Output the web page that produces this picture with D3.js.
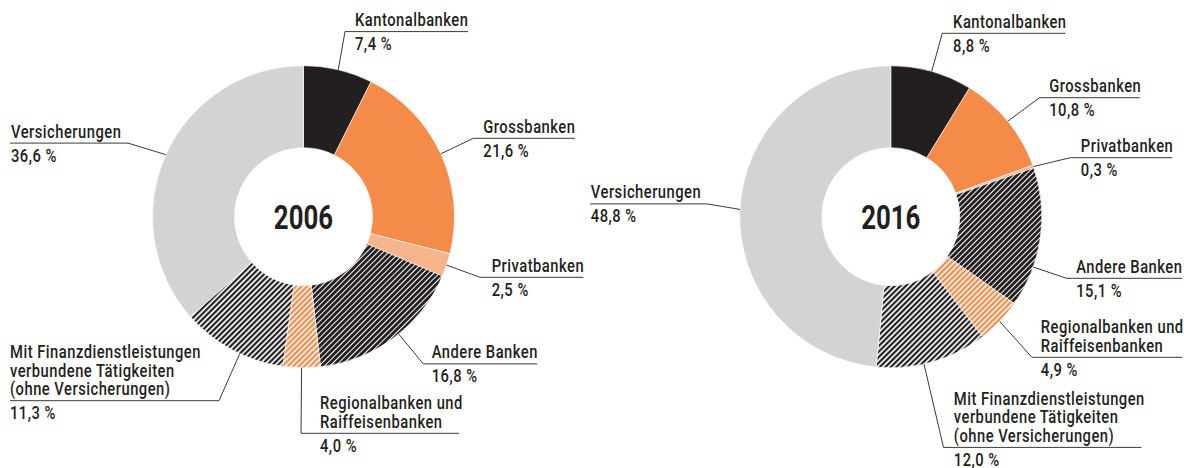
<!DOCTYPE html>
<html><head><meta charset="utf-8">
<script src="https://cdn.jsdelivr.net/npm/d3@7"></script>
<style>
html,body{margin:0;padding:0;background:#fff;}
svg{display:block;}
text{font-family:Roboto,"Liberation Sans",sans-serif;fill:#231f20;}
</style></head><body>
<svg id="chart" width="1184" height="468"></svg>
<script>
// ---- data ----
const categories = ["Kantonalbanken","Grossbanken","Privatbanken","Andere Banken",
  "Regionalbanken und Raiffeisenbanken",
  "Mit Finanzdienstleistungen verbundene Tätigkeiten (ohne Versicherungen)",
  "Versicherungen"];
const labelLines = [["Kantonalbanken"],["Grossbanken"],["Privatbanken"],["Andere Banken"],
  ["Regionalbanken und","Raiffeisenbanken"],
  ["Mit Finanzdienstleistungen","verbundene Tätigkeiten","(ohne Versicherungen)"],
  ["Versicherungen"]];
const years = ["2006","2016"];
const values2006 = [7.4,21.6,2.5,16.8,4.0,11.3,36.6];
const values2016 = [8.8,10.8,0.3,15.1,4.9,12.0,48.8];

// ---- styles / layout ----
const fills = ["#231f20","#f48b48","#f8b48a","url(#hatchDark)","url(#hatchOrange)","url(#hatchLight)","#d1d3d4"];
const R = 151, r = 69;
const lineH = 18.4;
const SX = 0.82;          // horizontal condensing of the label font
const layouts = [
  {cx:303.5, cy:216.7, labels:[
    {x:355,  y:26,    u:[345,468]},
    {x:483.3,y:132.7, u:[473.3,575]},
    {x:491.7,y:271.7, u:[480,583.3]},
    {x:431.7,y:358.3, u:[423.3,537.3], f:0.46},
    {x:320,  y:409.3, u:[301,459]},
    {x:10,   y:358.3, u:[10,219], side:"l", f:0.42},
    {x:11,   y:137.5, u:[10,128], side:"l"}
  ]},
  {cx:890.8, cy:216.7, labels:[
    {x:953.1, y:27.7,  u:[942.3,1065.4]},
    {x:1049.2,y:92.1,  u:[1039.6,1139.6]},
    {x:1080.8,y:152.1, u:[1070.4,1172.3]},
    {x:1076.2,y:272.7, u:[1066.5,1182.3], f:0.71},
    {x:1040.8,y:333.3, u:[1031.9,1182.3]},
    {x:953.8, y:405,   u:[943.5,1141.5], f:0.575},
    {x:590.8, y:198.3, u:[590,706.9], side:"l"}
  ]}
];
const series = [values2006, values2016];

const svg = d3.select("#chart");
const defs = svg.append("defs");
function hatch(id, color, w, period){
  const p = defs.append("pattern").attr("id",id).attr("patternUnits","userSpaceOnUse")
    .attr("width",period).attr("height",period).attr("patternTransform","rotate(45)");
  p.append("rect").attr("width",period).attr("height",period).attr("fill","#fff");
  p.append("rect").attr("width",w).attr("height",period).attr("fill",color);
}
hatch("hatchDark","#231f20",2.9,3.9);
hatch("hatchLight","#231f20",2.2,3.9);
hatch("hatchOrange","#f48b48",2.3,3.9);

const locale = d3.formatLocale({decimal:",",thousands:".",grouping:[3],currency:["",""]});
const fmt = locale.format(".1f");
const pie = d3.pie().sort(null).value(d=>d);
const arc = d3.arc().innerRadius(r).outerRadius(R);

function condensedText(parent, x, y, lines, size, sx, ls){
  const g = parent.append("g").attr("transform",`translate(${x},${y}) scale(${sx},1)`);
  const t = g.append("text").attr("font-size",size).attr("font-weight",500).attr("letter-spacing",ls);
  lines.forEach((s,k)=> t.append("tspan").attr("x",0).attr("y",k*lineH).text(s));
  return g;
}

series.forEach((vals, i) => {
  const L = layouts[i];
  const g = svg.append("g").attr("transform",`translate(${L.cx},${L.cy})`);
  const arcs = pie(vals);
  g.selectAll("path.seg").data(arcs).join("path").attr("class","seg")
    .attr("d",arc).attr("fill",(d,j)=>fills[j])
    .attr("stroke","#fff").attr("stroke-width",0.6);
  g.append("g").attr("transform","translate(0,12) scale(0.76,1)")
    .append("text").attr("text-anchor","middle")
    .attr("font-size",34).attr("font-weight","bold").text(years[i]);

  const lab = svg.append("g");
  arcs.forEach((d,j) => {
    const lo = L.labels[j];
    const f = lo.f == null ? 0.5 : lo.f;
    const a = d.startAngle + f*(d.endAngle-d.startAngle);
    const ax = L.cx + R*Math.sin(a), ay = L.cy - R*Math.cos(a);
    const lines = labelLines[j];
    const uy = lo.y + (lines.length-1)*lineH + 5.6;
    const ex = lo.side === "l" ? lo.u[1] : lo.u[0];
    lab.append("polyline")
      .attr("points",`${ax},${ay} ${ex},${uy}`)
      .attr("fill","none").attr("stroke","#3a3a3a").attr("stroke-width",1);
    lab.append("line").attr("x1",lo.u[0]).attr("x2",lo.u[1]).attr("y1",uy).attr("y2",uy)
      .attr("stroke","#3a3a3a").attr("stroke-width",1);
    condensedText(lab, lo.x, lo.y, lines, 18, SX, 0.6);
    condensedText(lab, lo.x, uy+18.4, [fmt(vals[j]) + " %"], 18, SX, 0.6);
  });
});
</script>
</body></html>
